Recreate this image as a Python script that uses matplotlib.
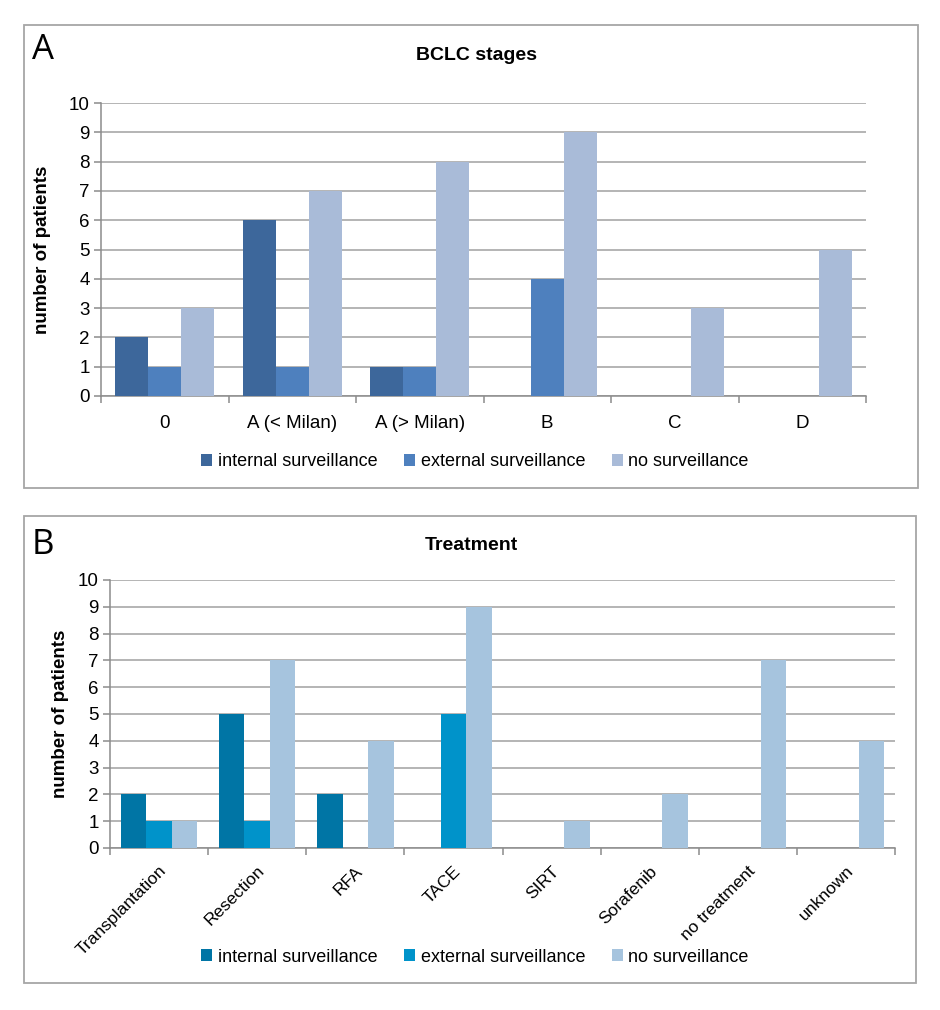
import matplotlib
matplotlib.use("Agg")
import matplotlib.pyplot as plt
import numpy as np
from matplotlib.patches import Rectangle

plt.rcParams['font.family'] = ['Liberation Sans', 'DejaVu Sans']

series_names = ["internal surveillance", "external surveillance", "no surveillance"]

bclc_stages = ["0", "A (< Milan)", "A (> Milan)", "B", "C", "D"]
bclc_internal = [2, 6, 1, 0, 0, 0]
bclc_external = [1, 1, 1, 4, 0, 0]
bclc_none = [3, 7, 8, 9, 3, 5]

treatments = ["Transplantation", "Resection", "RFA", "TACE", "SIRT",
              "Sorafenib", "no treatment", "unknown"]
treat_internal = [2, 5, 2, 0, 0, 0, 0, 0]
treat_external = [1, 1, 0, 5, 0, 0, 0, 0]
treat_none = [1, 7, 4, 9, 1, 2, 7, 4]

colors_a = ["#3D679B", "#4E80BE", "#A9BBD8"]
colors_b = ["#0075A5", "#0093CA", "#A6C4DE"]

W, H = 940, 1010
fig = plt.figure(figsize=(W / 100, H / 100), dpi=100)


def px_axes(left, top, right, bottom):
    return fig.add_axes([left / W, 1 - bottom / H, (right - left) / W, (bottom - top) / H])


def box(left, top, right, bottom):
    fig.patches.append(Rectangle((left / W, 1 - bottom / H), (right - left) / W,
                                 (bottom - top) / H, transform=fig.transFigure,
                                 fill=False, edgecolor="#A6A6A6", linewidth=1.3))


def bar_panel(ax, cats, data, colors, rotate):
    n = len(cats)
    x = np.arange(n)
    w = 0.26
    for i, (vals, c) in enumerate(zip(data, colors)):
        ax.bar(x + (i - 1) * w, vals, width=w, color=c, linewidth=0, zorder=3,
               label=series_names[i])
    ax.set_xlim(-0.5, n - 0.5)
    ax.set_ylim(0, 10)
    ax.set_yticks(range(0, 11))
    ax.yaxis.grid(True, color="#A0A0A0", linewidth=1.1, zorder=0)
    ax.set_xticks(np.arange(n + 1) - 0.5)
    ax.set_xticklabels([])
    ax.set_xticks(x, minor=True)
    if rotate:
        ax.set_xticklabels(cats, minor=True, rotation=45, ha="right",
                           rotation_mode="anchor", fontsize=12.5)
    else:
        ax.set_xticklabels(cats, minor=True, fontsize=13.5)
    ax.tick_params(axis="x", which="minor", length=0, pad=14 if not rotate else 11)
    ax.tick_params(axis="x", which="major", length=5, color="#8C8C8C", width=1.1)
    ax.tick_params(axis="y", length=5, color="#8C8C8C", width=1.1, labelsize=13.5, pad=3)
    for s in ["top", "right"]:
        ax.spines[s].set_visible(False)
    for s in ["left", "bottom"]:
        ax.spines[s].set_color("#8C8C8C")
        ax.spines[s].set_linewidth(1.1)
    ax.set_ylabel("number of patients", fontsize=13.5, fontweight="bold")


# Panel A
box(24, 25, 918, 488)
axA = px_axes(101, 103, 866, 396)
bar_panel(axA, bclc_stages, [bclc_internal, bclc_external, bclc_none], colors_a, False)
axA.yaxis.set_label_coords(-0.066, 0.5)
fig.text(477 / W, 1 - 56 / H, "BCLC stages", ha="center", va="center",
         fontsize=14, fontweight="bold")
fig.text(32 / W, 1 - 50 / H, "A", ha="left", va="center", fontsize=25,
         family=["Open Sans", "DejaVu Sans"])
hA, lA = axA.get_legend_handles_labels()
fig.legend(hA, lA, loc="center", bbox_to_anchor=(475 / W, 1 - 462 / H), ncol=3,
           frameon=False, fontsize=13, handlelength=0.6, handleheight=0.6,
           handletextpad=0.3, columnspacing=1.5)

# Panel B
box(24, 516, 916, 983)
axB = px_axes(110, 580, 895, 848)
bar_panel(axB, treatments, [treat_internal, treat_external, treat_none], colors_b, True)
axB.yaxis.set_label_coords(-0.052, 0.5)
fig.text(471 / W, 1 - 546 / H, "Treatment", ha="center", va="center",
         fontsize=14, fontweight="bold")
fig.text(32 / W, 1 - 545 / H, "B", ha="left", va="center", fontsize=25,
         family=["Open Sans", "DejaVu Sans"])
hB, lB = axB.get_legend_handles_labels()
fig.legend(hB, lB, loc="center", bbox_to_anchor=(475 / W, 1 - 957 / H), ncol=3,
           frameon=False, fontsize=13, handlelength=0.6, handleheight=0.6,
           handletextpad=0.3, columnspacing=1.5)

fig.savefig("out.png", dpi=100, facecolor="white")
